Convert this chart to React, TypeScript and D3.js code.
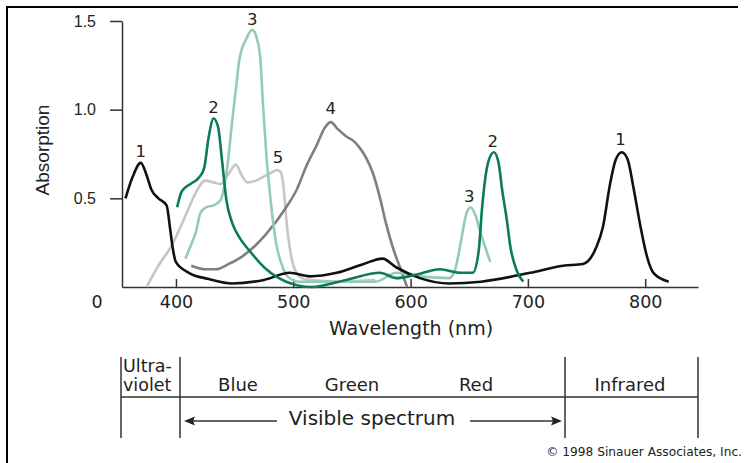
import * as d3 from "d3";
import React, { useRef, useEffect } from "react";

// [wavelength nm, absorption]
const bacterioChlA: [number, number][] = [
  [357, 0.5], [363, 0.62], [370, 0.7], [375, 0.63], [379, 0.55], [385, 0.5], [392, 0.46],
  [395, 0.33], [397, 0.23], [400, 0.14], [411, 0.08], [428, 0.045], [448, 0.02], [475, 0.04],
  [497, 0.08], [514, 0.06], [537, 0.08], [560, 0.13], [576, 0.16], [588, 0.11], [608, 0.05],
  [633, 0.02], [660, 0.03], [702, 0.08], [730, 0.12], [747, 0.13], [758, 0.22], [764, 0.34],
  [770, 0.58], [775, 0.72], [780, 0.76], [785, 0.72], [790, 0.56], [796, 0.34], [802, 0.16],
  [807, 0.08], [820, 0.03],
];
const chlA: [number, number][] = [
  [401, 0.45], [405, 0.54], [412, 0.58], [420, 0.62], [424, 0.67], [428, 0.85], [432, 0.95],
  [436, 0.9], [439, 0.73], [443, 0.49], [448, 0.36], [455, 0.27], [462, 0.21], [477, 0.1],
  [494, 0.03], [516, 0.0], [545, 0.04], [574, 0.08], [588, 0.05], [605, 0.07], [625, 0.1],
  [642, 0.08], [653, 0.08], [658, 0.2], [661, 0.45], [666, 0.7], [671, 0.76], [675, 0.7],
  [678, 0.55], [682, 0.38], [685, 0.23], [690, 0.1], [696, 0.03],
];
const chlB: [number, number][] = [
  [408, 0.16], [413, 0.24], [417, 0.31], [421, 0.42], [426, 0.45], [432, 0.46], [438, 0.49],
  [443, 0.64], [448, 0.94], [451, 1.11], [454, 1.28], [460, 1.4], [465, 1.45], [469, 1.4],
  [472, 1.28], [474, 1.05], [477, 0.75], [481, 0.47], [485, 0.26], [490, 0.13], [495, 0.06],
  [505, 0.03], [570, 0.03], [588, 0.08], [608, 0.06], [633, 0.05], [638, 0.1], [643, 0.26],
  [647, 0.4], [651, 0.45], [655, 0.41], [659, 0.32], [668, 0.14],
];
const pigment4: [number, number][] = [
  [413, 0.12], [425, 0.1], [434, 0.1], [445, 0.13], [456, 0.17], [467, 0.23], [477, 0.3],
  [494, 0.45], [503, 0.55], [511, 0.68], [520, 0.8], [527, 0.9], [532, 0.93], [538, 0.89],
  [545, 0.85], [552, 0.82], [556, 0.79], [562, 0.73], [568, 0.64], [574, 0.5], [579, 0.36],
  [585, 0.22], [591, 0.11], [597, 0.0],
];
const pigment5: [number, number][] = [
  [375, 0.0], [385, 0.12], [396, 0.23], [408, 0.4], [416, 0.52], [425, 0.6], [432, 0.59],
  [438, 0.58], [446, 0.65], [451, 0.69], [456, 0.63], [461, 0.59], [468, 0.6], [474, 0.62],
  [480, 0.64], [486, 0.66], [489, 0.65], [491, 0.6], [495, 0.32], [499, 0.15], [505, 0.06],
  [512, 0.04], [540, 0.03], [570, 0.04],
];

const curves = [
  { name: "5", data: pigment5, color: "#c6c6c6" },
  { name: "4", data: pigment4, color: "#7f7f7f" },
  { name: "3", data: chlB, color: "#93ccb2" },
  { name: "1", data: bacterioChlA, color: "#111111" },
  { name: "2", data: chlA, color: "#0b7a5e" },
];

// curve number labels: [text, wavelength, absorption at baseline]
const peakLabels: [string, number, number][] = [
  ["1", 370, 0.733], ["2", 432, 0.98], ["3", 465, 1.478], ["4", 532, 0.976], ["5", 487, 0.7],
  ["3", 650, 0.48], ["2", 670, 0.79], ["1", 779, 0.8],
];

const xTicks = [400, 500, 600, 700, 800];
const yTicks = [0.5, 1.0, 1.5];
const bands = ["Blue", "Green", "Red"];
const bandCenters = [238, 352, 476];

const sans = "'DejaVu Sans', 'Noto Sans', sans-serif";
const arial = "'Liberation Sans', Arial, sans-serif";

export default function App() {
  const ref = useRef<SVGSVGElement>(null);

  useEffect(() => {
    if (!ref.current) return;
    const svg = d3.select(ref.current);
    svg.selectAll("*").remove();

    const x = d3.scaleLinear().domain([354, 845]).range([122, 698]);
    const y = d3.scaleLinear().domain([0, 1.5]).range([287, 21]);

    // frame (top and left only)
    svg.append("line").attr("x1", 6).attr("x2", 738).attr("y1", 7).attr("y2", 7)
      .attr("stroke", "#000").attr("stroke-width", 2);
    svg.append("line").attr("x1", 7).attr("x2", 7).attr("y1", 6).attr("y2", 463)
      .attr("stroke", "#000").attr("stroke-width", 2);

    // y axis
    const yAxis = svg.append("g").attr("transform", "translate(122,0)")
      .call(d3.axisLeft(y).tickValues(yTicks).tickFormat(d3.format(".1f"))
        .tickSizeInner(12).tickSizeOuter(0).tickPadding(14));
    yAxis.selectAll("path, line").attr("stroke", "#333").attr("stroke-width", 1.5);
    yAxis.selectAll("text").attr("font-family", arial).attr("font-size", 16).attr("fill", "#222");

    // x axis, ticks pointing up
    const xAxis = svg.append("g").attr("transform", "translate(0,287)")
      .call(d3.axisBottom(x).tickValues(xTicks).tickFormat(d3.format("d"))
        .tickSizeInner(-8).tickSizeOuter(0).tickPadding(9));
    xAxis.selectAll("path, line").attr("stroke", "#333").attr("stroke-width", 1.5);
    xAxis.selectAll("text").attr("font-family", sans).attr("font-size", 17.5).attr("fill", "#222");

    svg.append("text").attr("x", 97).attr("y", 308).attr("text-anchor", "middle")
      .attr("font-family", sans).attr("font-size", 17.5).attr("fill", "#222").text("0");

    svg.append("text").attr("transform", "translate(42,150) rotate(-90)")
      .attr("text-anchor", "middle").attr("dominant-baseline", "central")
      .attr("font-family", arial).attr("font-size", 19).attr("fill", "#222").text("Absorption");

    svg.append("text").attr("x", 411).attr("y", 335).attr("text-anchor", "middle")
      .attr("font-family", sans).attr("font-size", 19).attr("fill", "#222")
      .text("Wavelength (nm)");

    // spectra
    const line = d3.line<[number, number]>()
      .x((d) => x(d[0]))
      .y((d) => y(d[1]))
      .curve(d3.curveMonotoneX);

    curves.forEach((c) => {
      svg.append("path").datum(c.data).attr("fill", "none")
        .attr("stroke", c.color).attr("stroke-width", 2.6)
        .attr("stroke-linejoin", "round").attr("d", line);
    });

    svg.selectAll(".peak").data(peakLabels).enter().append("text")
      .attr("class", "peak")
      .attr("x", (d) => x(d[1])).attr("y", (d) => y(d[2]))
      .attr("text-anchor", "middle").attr("font-family", sans)
      .attr("font-size", 16.5).attr("fill", "#222").text((d) => d[0]);

    // spectrum table below
    const t = svg.append("g").attr("stroke", "#333").attr("stroke-width", 1.5);
    [121, 180, 565, 698].forEach((vx) => {
      t.append("line").attr("x1", vx).attr("x2", vx).attr("y1", 357).attr("y2", 438);
    });
    t.append("line").attr("x1", 121).attr("x2", 698).attr("y1", 397).attr("y2", 397);

    const label = (tx: number, ty: number, s: string, size = 18, anchor = "middle") =>
      svg.append("text").attr("x", tx).attr("y", ty).attr("text-anchor", anchor)
        .attr("font-family", sans).attr("font-size", size).attr("fill", "#222").text(s);

    label(123, 372, "Ultra-", 17.5, "start");
    label(123, 391, "violet", 17.5, "start");
    bands.forEach((b, i) => label(bandCenters[i], 391, b));
    label(630, 391, "Infrared");
    label(372, 425, "Visible spectrum", 20);

    // arrows
    const arrowY = 421;
    t.append("line").attr("x1", 190).attr("x2", 277).attr("y1", arrowY).attr("y2", arrowY);
    t.append("line").attr("x1", 470).attr("x2", 556).attr("y1", arrowY).attr("y2", arrowY);
    svg.append("path").attr("d", `M184,${arrowY} L195,${arrowY - 4.5} L193,${arrowY} L195,${arrowY + 4.5} Z`)
      .attr("fill", "#222");
    svg.append("path").attr("d", `M562,${arrowY} L551,${arrowY - 4.5} L553,${arrowY} L551,${arrowY + 4.5} Z`)
      .attr("fill", "#222");

    svg.append("text").attr("x", 742).attr("y", 456).attr("text-anchor", "end")
      .attr("font-family", sans).attr("font-size", 12.2).attr("fill", "#222")
      .text("© 1998 Sinauer Associates, Inc.");
  }, []);

  return (
    <svg
      ref={ref}
      width={744}
      height={463}
      style={{ position: "absolute", left: 0, top: 0, background: "#fff" }}
    />
  );
}
